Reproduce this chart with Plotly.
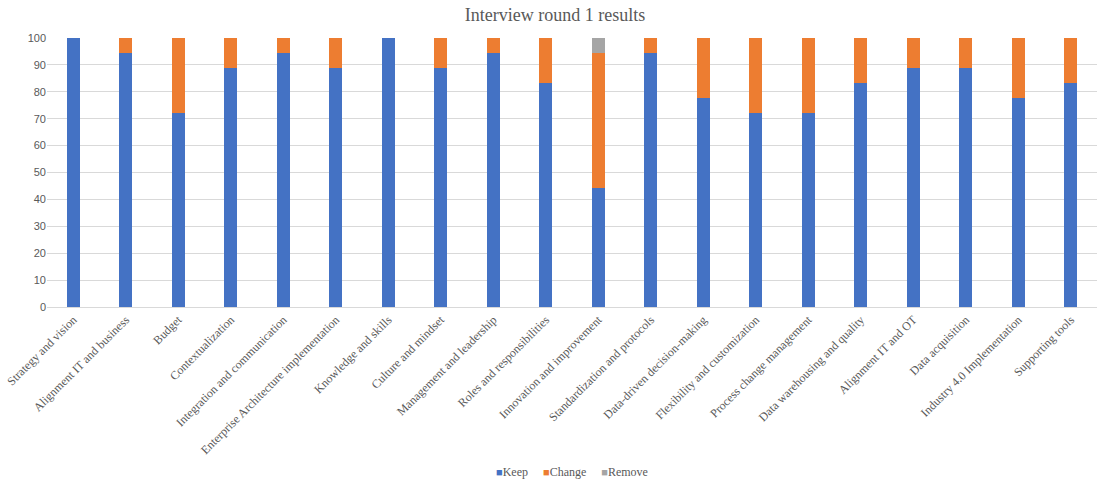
import plotly.graph_objects as go

categories = [
    "Strategy and vision", "Alignment IT and business", "Budget", "Contextualization",
    "Integration and communication", "Enterprise Architecture implementation",
    "Knowledge and skills", "Culture and mindset", "Management and leadership",
    "Roles and responsibilities", "Innovation and improvement", "Standardization and protocols",
    "Data-driven decision-making", "Flexibility and customization", "Process change management",
    "Data warehousing and quality", "Alignment IT and OT", "Data acquisition",
    "Industry 4.0 Implementation", "Supporting tools",
]
keep = [100, 94.4, 72.2, 88.9, 94.4, 88.9, 100, 88.9, 94.4, 83.3,
        44.4, 94.4, 77.8, 72.2, 72.2, 83.3, 88.9, 88.9, 77.8, 83.3]
change = [0, 5.6, 27.8, 11.1, 5.6, 11.1, 0, 11.1, 5.6, 16.7,
          50.0, 5.6, 22.2, 27.8, 27.8, 16.7, 11.1, 11.1, 22.2, 16.7]
remove = [0, 0, 0, 0, 0, 0, 0, 0, 0, 0,
          5.6, 0, 0, 0, 0, 0, 0, 0, 0, 0]

series = [("Keep", keep, "#4472C4"), ("Change", change, "#ED7D31"), ("Remove", remove, "#A5A5A5")]

fig = go.Figure()
for name, vals, color in series:
    fig.add_trace(go.Bar(x=categories, y=vals, name=name, marker_color=color,
                         marker_line_width=0, showlegend=False))

serif = "Liberation Serif, Times New Roman, serif"

# compact legend row: small coloured squares followed by the series names
legend_text = "&nbsp;&nbsp;&nbsp;&nbsp;&nbsp;".join(
    f'<span style="color:{color};font-size:11px">■</span>{name}' for name, _, color in series
)
fig.add_annotation(text=legend_text, xref="paper", yref="paper", x=0.5, xanchor="center",
                   y=-0.613, yanchor="middle", showarrow=False,
                   font=dict(family=serif, size=12, color="#595959"))

fig.update_layout(
    barmode="stack",
    bargap=0.75,
    width=1110, height=480,
    margin=dict(l=47, r=13, t=38, b=173),
    paper_bgcolor="white", plot_bgcolor="white",
    title=dict(text="Interview round 1 results", x=0.5, xanchor="center", y=0.97, yanchor="middle",
               font=dict(family=serif, size=18, color="#595959")),
    xaxis=dict(tickangle=-45, tickfont=dict(family=serif, size=12, color="#595959"),
               showline=True, linecolor="#D9D9D9", linewidth=1, ticks="", automargin=False),
    yaxis=dict(range=[0, 100], dtick=10, showgrid=True, gridcolor="#D9D9D9", gridwidth=1,
               zeroline=False, automargin=False,
               tickfont=dict(family="Liberation Sans, Arial, sans-serif", size=11, color="#595959"),
               ticks="", ticklen=0),
)

fig.write_html("out.html")
